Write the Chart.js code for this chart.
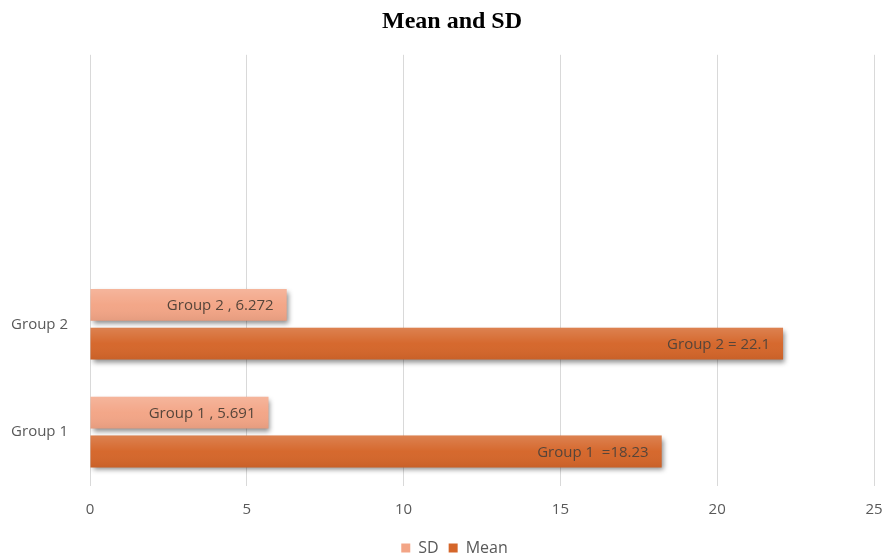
<!DOCTYPE html>
<html>
<head>
<meta charset="utf-8">
<script src="https://cdn.jsdelivr.net/npm/chart.js@4/dist/chart.umd.min.js"></script>
<style>
  html, body { margin: 0; padding: 0; background: #ffffff; }
  #wrap { width: 885px; height: 559px; }
</style>
</head>
<body>
<div id="wrap"><canvas id="chart" width="885" height="559"></canvas></div>
<script>
// Categories from bottom to top; the two upper rows are empty
const categories = ['Group 1', 'Group 2', '', ''];
const sdValues = [5.691, 6.272, null, null];
const meanValues = [18.23, 22.1, null, null];
const meanLabelPrefix = ['Group 1  =', 'Group 2 = '];
const xTicks = [0, 5, 10, 15, 20, 25];

const TEXT_FONT = "'Open Sans', 'DejaVu Sans', sans-serif";

// Value labels drawn inside the right end of each bar
function barLabel(datasetIndex, i) {
  if (datasetIndex === 0) return categories[i] + ' , ' + sdValues[i];
  return meanLabelPrefix[i] + meanValues[i];
}

// Title and legend sit centred a little right of the canvas centre
const blockOffsets = {
  id: 'blockOffsets',
  afterLayout(chart) {
    if (chart.titleBlock) {
      chart.titleBlock.left += 19;
    }
    if (chart.legend) {
      chart.legend.left += 24;
      chart.legend.top += 7;
      chart.legend.bottom += 7;
    }
  }
};

// Soft drop shadow under bars plus a subtle top highlight
const barStyle = {
  id: 'barStyle',
  beforeDatasetDraw(chart) {
    const ctx = chart.ctx;
    ctx.save();
    ctx.shadowColor = 'rgba(0,0,0,0.45)';
    ctx.shadowBlur = 5;
    ctx.shadowOffsetX = 2;
    ctx.shadowOffsetY = 3;
  },
  afterDatasetDraw(chart, args) {
    const ctx = chart.ctx;
    ctx.restore();
    const meta = args.meta;
    meta.data.forEach((bar, i) => {
      const v = meta._parsed[i] ? meta._parsed[i].x : null;
      if (v == null || isNaN(v)) return;
      const top = bar.y - bar.height / 2;
      const g = ctx.createLinearGradient(0, top, 0, top + bar.height);
      g.addColorStop(0, 'rgba(255,255,255,0.18)');
      g.addColorStop(0.5, 'rgba(255,255,255,0.02)');
      g.addColorStop(1, 'rgba(0,0,0,0.06)');
      ctx.save();
      ctx.fillStyle = g;
      ctx.fillRect(bar.base, top, bar.x - bar.base, bar.height);
      ctx.restore();
    });
  },
  afterDatasetsDraw(chart) {
    const ctx = chart.ctx;
    ctx.save();
    ctx.font = '15px ' + TEXT_FONT;
    ctx.fillStyle = '#56453a';
    ctx.textAlign = 'right';
    ctx.textBaseline = 'middle';
    chart.data.datasets.forEach((ds, di) => {
      const meta = chart.getDatasetMeta(di);
      meta.data.forEach((bar, i) => {
        if (ds.data[i] == null) return;
        ctx.fillText(barLabel(di, i), bar.x - 13, bar.y + 1);
      });
    });
    ctx.restore();
  }
};

new Chart(document.getElementById('chart'), {
  type: 'bar',
  data: {
    labels: categories,
    datasets: [
      {
        label: 'SD',
        data: sdValues,
        backgroundColor: '#f3a586',
        borderWidth: 0,
        categoryPercentage: 0.72,
        barPercentage: 0.82
      },
      {
        label: 'Mean',
        data: meanValues,
        backgroundColor: '#d5662a',
        borderWidth: 0,
        categoryPercentage: 0.72,
        barPercentage: 0.82
      }
    ]
  },
  options: {
    indexAxis: 'y',
    responsive: false,
    animation: false,
    layout: { padding: { left: 0, right: 0, top: 0, bottom: 0 } },
    scales: {
      x: {
        min: 0,
        max: 25,
        afterBuildTicks(scale) {
          scale.ticks = xTicks.map(v => ({ value: v }));
        },
        grid: { color: '#d9d9d9', drawTicks: false, lineWidth: 1 },
        border: { display: false },
        ticks: {
          color: '#595959',
          font: { family: TEXT_FONT, size: 15 },
          padding: 15
        },
        afterFit(scale) {
          scale.height = 37;
          scale.paddingLeft = 0;
          scale.paddingRight = 11;
        }
      },
      y: {
        reverse: true,
        grid: { display: false, drawTicks: false },
        border: { display: false },
        ticks: {
          color: '#595959',
          font: { family: TEXT_FONT, size: 15 },
          padding: 22
        },
        afterFit(scale) { scale.width = 90; }
      }
    },
    plugins: {
      title: {
        display: true,
        text: 'Mean and SD',
        color: '#000000',
        font: { family: "'Liberation Serif', 'Times New Roman', serif", size: 24, weight: 'bold' },
        padding: { top: 7, bottom: 19 }
      },
      legend: {
        position: 'bottom',
        labels: {
          color: '#595959',
          font: { family: TEXT_FONT, size: 16 },
          boxWidth: 9,
          boxHeight: 9,
          padding: 10
        }
      },
      tooltip: { enabled: false }
    }
  },
  plugins: [barStyle, blockOffsets]
});
</script>
</body>
</html>
